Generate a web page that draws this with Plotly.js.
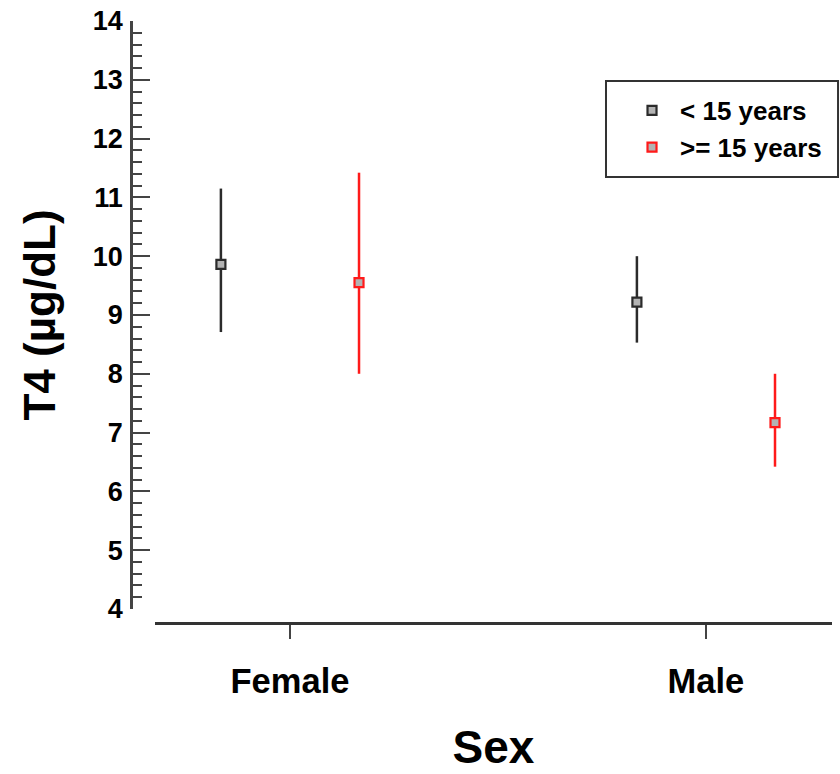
<!DOCTYPE html>
<html>
<head>
<meta charset="utf-8">
<script src="https://cdn.plot.ly/plotly-3.0.1.min.js"></script>
<style>html,body{margin:0;padding:0;background:#fff;}</style>
</head>
<body>
<div id="chart" style="width:840px;height:774px;"></div>
<script>
// ---- data ----
const categories = ["Female", "Male"];
const seriesNames = ["< 15 years", ">= 15 years"];
const youngMean  = [9.86, 9.22];
const youngUpper = [11.15, 10.0];
const youngLower = [8.71, 8.53];
const oldMean    = [9.55, 7.17];
const oldUpper   = [11.42, 8.0];
const oldLower   = [8.0, 6.42];
const yTickVals  = [4, 5, 6, 7, 8, 9, 10, 11, 12, 13, 14];

const FONT = "Liberation Sans, Arial, Helvetica, sans-serif";

function makeTrace(name, mean, upper, lower, color) {
  return {
    type: "scatter",
    mode: "markers",
    name: name,
    x: categories,
    y: mean,
    marker: {symbol: "square", size: 9, color: "#b3b3b3",
             line: {color: color, width: 2.2}},
    error_y: {type: "data", symmetric: false,
              array: upper.map((u, i) => u - mean[i]),
              arrayminus: lower.map((l, i) => mean[i] - l),
              color: color, thickness: 2.5, width: 0}
  };
}

const traces = [
  makeTrace(seriesNames[0], youngMean, youngUpper, youngLower, "#2b2b2b"),
  makeTrace(seriesNames[1], oldMean, oldUpper, oldLower, "#ff1a1a")
];

const layout = {
  width: 840, height: 774,
  margin: {l: 131, r: 8, t: 21, b: 151},
  paper_bgcolor: "#fff", plot_bgcolor: "#fff",
  font: {family: FONT, color: "#000"},
  scattermode: "group",
  scattergap: 0.336,
  showlegend: true,
  legend: {x: 0.7033, y: 0.8905, xanchor: "left", yanchor: "top",
           bgcolor: "rgba(0,0,0,0)", borderwidth: 0, itemwidth: 46,
           font: {family: FONT, size: 26, color: "#000", weight: "bold"},
           tracegroupgap: 0},
  xaxis: {
    type: "category",
    domain: [0.0342, 1],
    anchor: "free", position: 0,
    range: [-0.3245, 1.303],
    showgrid: false, zeroline: false,
    showline: true, linecolor: "#333", linewidth: 2.5,
    ticks: "outside", ticklen: 14, tickwidth: 2, tickcolor: "#444",
    ticklabelstandoff: 13,
    tickfont: {family: FONT, size: 34.5, color: "#000", weight: "bold"},
    title: {text: "Sex", standoff: 31,
            font: {family: FONT, size: 46, color: "#000", weight: "bold"}}
  },
  yaxis: {
    domain: [0.0233, 1],
    anchor: "free", position: 0,
    range: [4, 14],
    tickvals: yTickVals,
    showgrid: false, zeroline: false,
    showline: true, linecolor: "#444", linewidth: 2.5,
    ticks: "inside", ticklen: 17, tickwidth: 2, tickcolor: "#444",
    minor: {dtick: 0.2, ticks: "inside", ticklen: 9, tickwidth: 1.8, tickcolor: "#444", showgrid: false},
    ticklabelstandoff: 2,
    tickfont: {family: FONT, size: 27, color: "#000", weight: "bold"},
    title: {text: "T4 (µg/dL)", standoff: 22,
            font: {family: FONT, size: 44, color: "#000", weight: "bold"}}
  },
  shapes: [{type: "rect", xref: "paper", yref: "paper",
            x0: 0.6776, x1: 1.0086, y0: 0.7409, y1: 0.9003,
            line: {color: "#333", width: 2}, fillcolor: "rgba(0,0,0,0)"}]
};

Plotly.newPlot("chart", traces, layout, {displayModeBar: false, responsive: false});
</script>
</body>
</html>
